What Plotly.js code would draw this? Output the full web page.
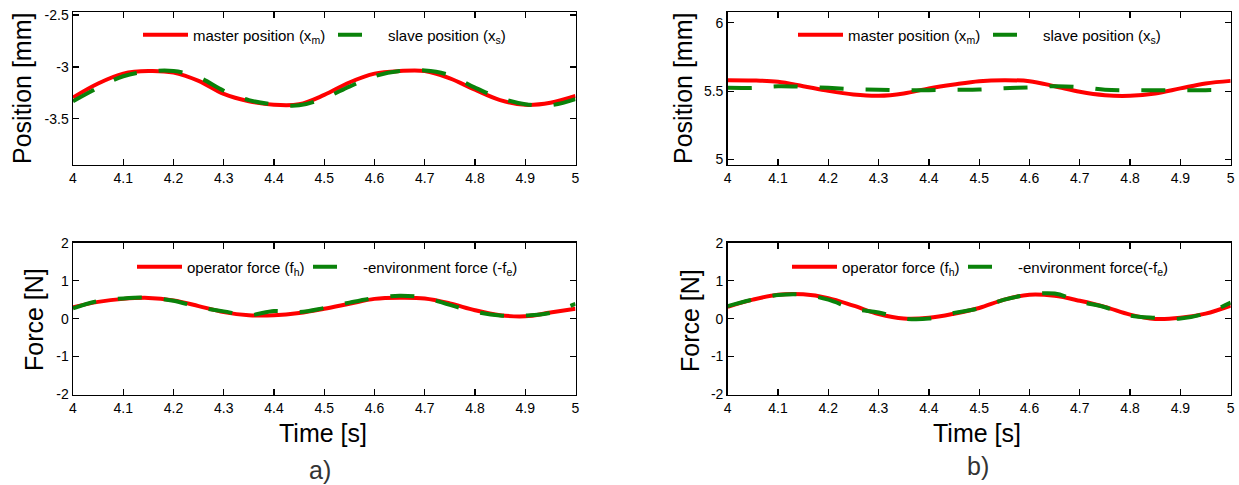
<!DOCTYPE html>
<html><head><meta charset="utf-8">
<script src="https://cdn.plot.ly/plotly-3.0.1.min.js"></script>
<style>html,body{margin:0;padding:0;background:#fff}#chart{width:1239px;height:485px}</style>
</head><body><div id="chart"></div>
<script>
// time grid [s]
const time = [4.00,4.05,4.10,4.15,4.20,4.25,4.30,4.35,4.40,4.45,4.50,4.55,4.60,4.65,4.70,4.75,4.80,4.85,4.90,4.95,5.00];
const xTickVals = [4,4.1,4.2,4.3,4.4,4.5,4.6,4.7,4.8,4.9,5];
const xTickText = ["4","4.1","4.2","4.3","4.4","4.5","4.6","4.7","4.8","4.9","5"];

// a) position [mm]
const masterPosA = [-3.295,-3.16,-3.065,-3.04,-3.055,-3.135,-3.26,-3.33,-3.365,-3.36,-3.27,-3.15,-3.065,-3.04,-3.04,-3.11,-3.22,-3.32,-3.365,-3.345,-3.28];
const slavePosA  = [-3.33,-3.20,-3.09,-3.045,-3.04,-3.10,-3.23,-3.32,-3.36,-3.37,-3.30,-3.19,-3.09,-3.04,-3.035,-3.08,-3.20,-3.30,-3.36,-3.37,-3.31];
// a) force [N]
const operatorForceA = [0.30,0.44,0.52,0.545,0.48,0.33,0.17,0.09,0.09,0.15,0.26,0.39,0.52,0.55,0.53,0.40,0.22,0.09,0.06,0.16,0.26];
const envForceA      = [0.27,0.46,0.53,0.55,0.47,0.30,0.19,0.09,0.20,0.17,0.28,0.42,0.54,0.60,0.55,0.36,0.18,0.08,0.08,0.15,0.39];
// b) position [mm]
const masterPosB = [5.58,5.578,5.568,5.536,5.502,5.476,5.466,5.483,5.52,5.549,5.573,5.58,5.573,5.536,5.495,5.47,5.466,5.483,5.52,5.556,5.575];
const slavePosB  = [5.524,5.524,5.536,5.532,5.524,5.515,5.511,5.507,5.507,5.51,5.512,5.522,5.527,5.536,5.53,5.51,5.507,5.507,5.507,5.507,5.51];
// b) force [N]
const operatorForceB = [0.31,0.50,0.63,0.64,0.54,0.34,0.12,0.00,0.02,0.13,0.28,0.50,0.63,0.60,0.47,0.31,0.105,-0.01,0.02,0.13,0.34];
const envForceB      = [0.33,0.50,0.62,0.63,0.50,0.26,0.16,0.00,0.00,0.15,0.27,0.50,0.63,0.66,0.45,0.30,0.08,0.02,0.00,0.14,0.42];

const RED = '#ff0000', GREEN = '#0a820a';
const FONT = 'Liberation Sans, Arial, sans-serif';
const DASH = '24px,22px';

function red(y, ax, lg, name, lw){ return {x: time, y: y, xaxis: 'x'+ax, yaxis: 'y'+ax, legend: lg, legendwidth: lw, name: name, mode: 'lines', line: {color: RED, width: 4, shape: 'spline'}}; }
function green(y, ax, lg, name){ return {x: time, y: y, xaxis: 'x'+ax, yaxis: 'y'+ax, legend: lg, name: name, mode: 'lines', line: {color: GREEN, width: 4, dash: DASH, shape: 'spline'}}; }

const data = [
  red(masterPosA, '', 'legend', 'master position (x<sub>m</sub>)', 135),
  green(slavePosA, '', 'legend', 'slave position (x<sub>s</sub>)'),
  red(masterPosB, '2', 'legend2', 'master position (x<sub>m</sub>)', 135),
  green(slavePosB, '2', 'legend2', 'slave position (x<sub>s</sub>)'),
  red(operatorForceA, '3', 'legend3', 'operator force (f<sub>h</sub>)', 116),
  green(envForceA, '3', 'legend3', '-environment force (-f<sub>e</sub>)'),
  red(operatorForceB, '4', 'legend4', 'operator force (f<sub>h</sub>)', 116),
  green(envForceB, '4', 'legend4', '-environment force(-f<sub>e</sub>)')
];

const W = 1239, H = 485;
const px = v => v / W, py = v => 1 - v / H;

function xa(domain, anchor){ return {domain: domain, anchor: anchor, range: [4,5], tickvals: xTickVals, ticktext: xTickText,
  ticks: 'inside', ticklen: 6, tickwidth: 1.2, tickcolor: '#000', showline: true, linecolor: '#000', linewidth: 1.5, mirror: 'ticks',
  showgrid: false, zeroline: false, tickfont: {family: FONT, size: 14, color: '#000'}, fixedrange: true}; }
function ya(domain, anchor, range, tv){ return {domain: domain, anchor: anchor, range: range, tickvals: tv, ticktext: tv.map(String),
  ticks: 'inside', ticklen: 6, tickwidth: 1.2, tickcolor: '#000', showline: true, linecolor: '#000', linewidth: 1.5, mirror: 'ticks',
  showgrid: false, zeroline: false, tickfont: {family: FONT, size: 14, color: '#000'}, fixedrange: true}; }

const LX = [px(73), px(575.5)], RX = [px(727.7), px(1230.7)];
const TY = [py(164.5), py(12.3)], BY = [py(394.5), py(242.7)];

function lg(x, y){ return {orientation: 'h', x: x, y: y, xanchor: 'left', yanchor: 'middle', bgcolor: 'rgba(0,0,0,0)',
  font: {family: FONT, size: 15, color: '#000'}, itemwidth: 45, itemclick: false, itemdoubleclick: false}; }

function ann(text, x, y, size, angle, color){ return {text: text, x: px(x), y: py(y), xref: 'paper', yref: 'paper', showarrow: false,
  xanchor: 'center', yanchor: 'middle', textangle: angle || 0, font: {family: FONT, size: size, color: color || '#000'}}; }

const layout = {
  width: W, height: H, margin: {l: 0, r: 0, t: 0, b: 0}, paper_bgcolor: '#fff', plot_bgcolor: '#fff', showlegend: true,
  xaxis: xa(LX, 'y'), yaxis: ya(TY, 'x', [-3.94, -2.474], [-3.5, -3, -2.5]),
  xaxis2: xa(RX, 'y2'), yaxis2: ya(TY, 'x2', [4.964, 6.076], [5, 5.5, 6]),
  xaxis3: xa(LX, 'y3'), yaxis3: ya(BY, 'x3', [-2, 2], [-2, -1, 0, 1, 2]),
  xaxis4: xa(RX, 'y4'), yaxis4: ya(BY, 'x4', [-2, 2], [-2, -1, 0, 1, 2]),
  legend: lg(px(138), py(35)), legend2: lg(px(793), py(35)),
  legend3: lg(px(132), py(267)), legend4: lg(px(787), py(267)),
  annotations: [
    ann('Position [mm]', 22, 89, 25, -90), ann('Force [N]', 34, 320, 25, -90),
    ann('Position [mm]', 683, 89, 25, -90), ann('Force [N]', 690, 321, 25, -90),
    ann('Time [s]', 323, 433, 25), ann('Time [s]', 977, 433, 25),
    ann('a)', 320, 470, 25, 0, '#333'), ann('b)', 978, 466, 25, 0, '#333')
  ]
};

Plotly.newPlot('chart', data, layout, {staticPlot: true, displayModeBar: false});
</script></body></html>
